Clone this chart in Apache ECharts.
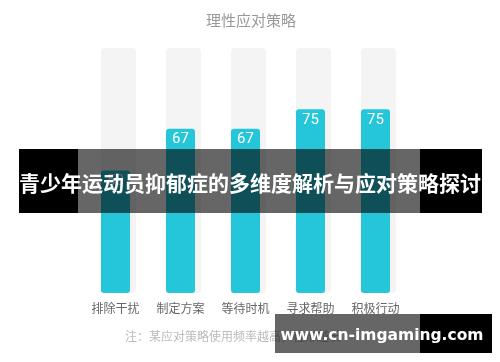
<!DOCTYPE html>
<html><head><meta charset="utf-8">
<script src="https://cdn.jsdelivr.net/npm/echarts@6/dist/echarts.min.js"></script>
<style>html,body{margin:0;padding:0;background:#fff}#c{width:500px;height:362px}</style>
</head><body><div id="c"></div>
<script>
const titleText = '理性应对策略';
const categories = ['排除干扰', '制定方案', '等待时机', '寻求帮助', '积极行动'];
const values = [50, 67, 67, 75, 75];
const maxValues = [100, 100, 100, 100, 100];
const noteText = '注：某应对策略使用频率越高，柱形越长';
const bannerText = '青少年运动员抑郁症的多维度解析与应对策略探讨';
const watermarkText = 'www.cn-imgaming.com';

const font = '"Noto Sans CJK SC", "Noto Sans", sans-serif';
const chart = echarts.init(document.getElementById('c'), null, {renderer: 'canvas'});
chart.setOption({
  animation: false,
  title: {text: titleText, left: 246, textAlign: 'center', top: 8,
    textStyle: {color: '#999', fontSize: 15, fontWeight: 'normal', fontFamily: font}},
  grid: {left: 83, right: 92, top: 48, bottom: 69},
  xAxis: {type: 'category', data: categories,
    axisLine: {show: false}, axisTick: {show: false},
    axisLabel: {color: '#666', fontSize: 12, margin: 9, fontFamily: font}},
  yAxis: {type: 'value', min: 0, max: 100, show: false},
  series: [
    {type: 'bar', data: maxValues, barWidth: 35, barGap: '-100%', silent: true,
      itemStyle: {color: '#f4f4f4', borderRadius: 4}, z: 1},
    {type: 'bar', data: values, barWidth: 29, z: 2,
      itemStyle: {color: '#26c6da', borderRadius: 3},
      label: {show: true, position: 'insideTop', distance: 3, color: '#fff', fontSize: 15,
        fontFamily: 'Roboto, "Noto Sans", sans-serif'}}
  ],
  graphic: [
    {type: 'text', left: 125, top: 330, z: 10,
      style: {text: noteText, fill: '#bbb', font: '12px ' + font}},
    {type: 'rect', shape: {x: 19, y: 149, width: 59, height: 64}, style: {fill: '#000'}, z: 100},
    {type: 'rect', shape: {x: 78, y: 149, width: 342, height: 64}, style: {fill: 'rgba(0,0,0,0.6)'}, z: 100},
    {type: 'rect', shape: {x: 420, y: 149, width: 62, height: 64}, style: {fill: '#000'}, z: 100},
    {type: 'text', x: 250, y: 183, z: 101,
      style: {text: bannerText, fill: '#fff', font: 'bold 21px ' + font, align: 'center', verticalAlign: 'middle'}},
    {type: 'rect', shape: {x: 275, y: 314, width: 145, height: 39}, style: {fill: 'rgba(0,0,0,0.6)'}, z: 100},
    {type: 'rect', shape: {x: 420, y: 314, width: 72, height: 39}, style: {fill: '#000'}, z: 100},
    {type: 'text', x: 382, y: 336, z: 101,
      style: {text: watermarkText, fill: '#fff', font: 'bold 15.5px "DejaVu Sans", sans-serif', align: 'center', verticalAlign: 'middle'}}
  ]
});
</script></body></html>
